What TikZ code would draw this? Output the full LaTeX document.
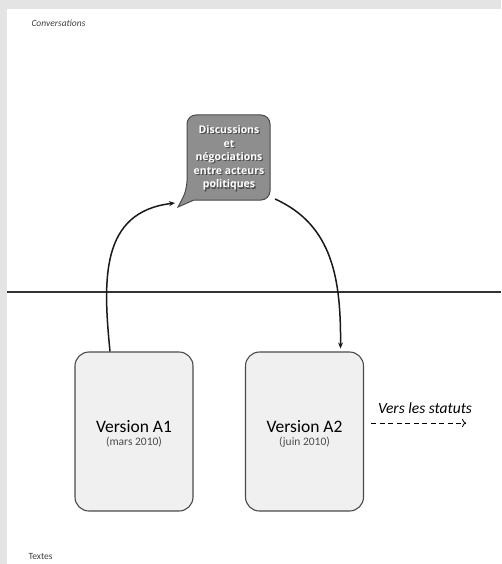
\documentclass[tikz,border=0pt]{standalone}
\usepackage{fontspec}
\setmainfont{Carlito}
\newfontfamily\bubblefont{Open Sans}
\usetikzlibrary{arrows.meta}

\definecolor{bubblegray}{HTML}{8E8E8E}
\definecolor{boxgray}{HTML}{F0F0F0}
\definecolor{edgegray}{HTML}{4A4A4A}
\definecolor{pagegray}{HTML}{E4E4E4}

\begin{document}
\begin{tikzpicture}[
    x=1pt, y=-1pt,
    versionbox/.style={
       rectangle, rounded corners=14pt, draw=edgegray, fill=boxgray,
       line width=1.1pt, minimum width=118pt, minimum height=159pt,
       inner sep=0pt, align=center
        },
    bubbletext/.style={
       align=center, font=\bubblefont\fontsize{10.5}{13.6}\selectfont\bfseries,
       inner sep=0pt
        },
    flow/.style={line width=1.5pt, draw=black!90, -{Stealth[length=6pt,width=5pt]}},
    corner/.style={font=\fontsize{9.5}{11}\selectfont, text=black!75, anchor=west}
    ]

% page
\fill[pagegray] (0,0) rectangle (501,564);
\fill[white] (7,9) rectangle (501,564);
\useasboundingbox (0,0) rectangle (501,564);

\node[corner, font=\fontsize{9.5}{11}\selectfont\itshape] (conv) at (28,23) {Conversations};
\node[corner] (textes) at (25,556) {Textes};

% separation
\draw[line width=1.6pt, draw=black!80] (7,292) -- (501,292);

% speech bubble
\draw[draw=edgegray, fill=bubblegray, line width=1pt]
   (194,200) [rounded corners=9pt] -- (270,200) -- (270,115) -- (187,115)
   -- (187,190) [sharp corners] -- (178,207) -- cycle;
\node[bubbletext, text=black!70] at (230.2,159.2) {Discussions\\et\\négociations\\entre acteurs\\politiques};
\node[bubbletext, text=white] (disc) at (229,158) {Discussions\\et\\négociations\\entre acteurs\\politiques};
\coordinate (tip) at (175,203);
\coordinate (exit) at (275,199);

% versions
\node[versionbox] (a1) at (134,431.5) {};
\node[versionbox] (a2) at (304.5,431.5) {};
\node[align=center] (a1text) at (134,434) {\fontsize{17.5}{19}\selectfont Version A1\\[1pt]
   {\fontsize{11.5}{13}\selectfont\color{black!70}(mars 2010)}};
\node[align=center] (a2text) at (304.5,434) {\fontsize{17.5}{19}\selectfont Version A2\\[1pt]
   {\fontsize{11.5}{13}\selectfont\color{black!70}(juin 2010)}};

\draw[flow] ([xshift=-24pt]a1.north) .. controls (103,280) and (100,212) .. (tip);
\draw[flow] (exit) .. controls (333,225) and (341,280) .. ([xshift=36pt,yshift=3pt]a2.north);

% onward
\coordinate (statuts) at (466,423);
\draw[dashed, dash pattern=on 5pt off 3.5pt, line width=0.8pt, -{To[length=4pt]}]
   ([shift={(7,-8.5)}]a2.east) -- (statuts);
\node[font=\fontsize{15.5}{18}\selectfont\itshape] (vers) at (425,408) {Vers les statuts};
\end{tikzpicture}
\end{document}
